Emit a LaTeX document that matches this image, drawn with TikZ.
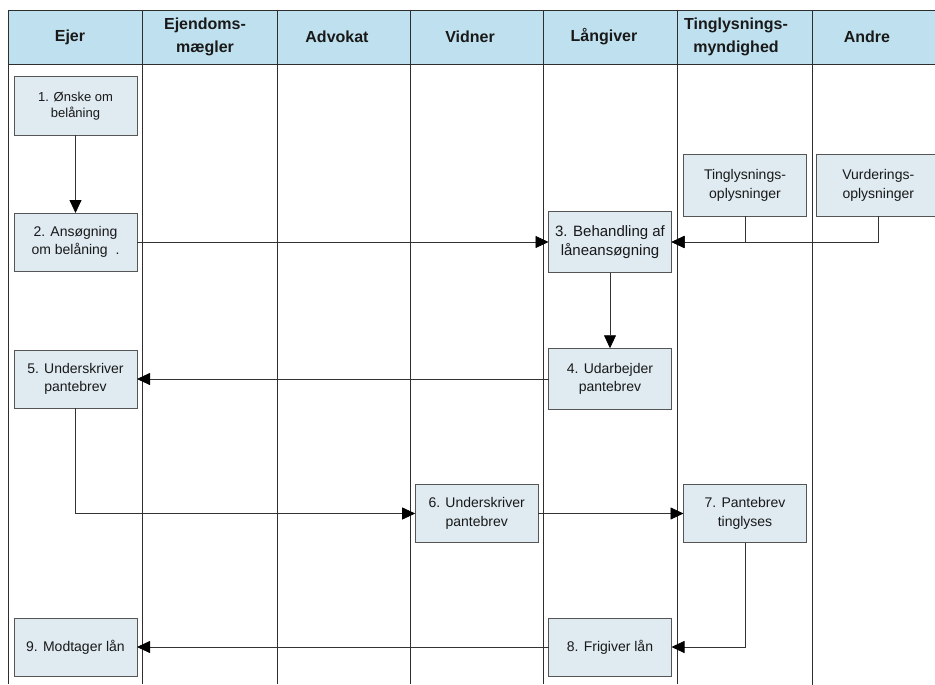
\documentclass[tikz,border=0pt]{standalone}
\usepackage{fontspec}
\setmainfont{Liberation Sans}
\usetikzlibrary{positioning}
\usetikzlibrary{arrows.meta}
\definecolor{headblue}{HTML}{BFE1EF}
\definecolor{boxblue}{HTML}{DFEAF1}
\definecolor{edgegray}{HTML}{555555}
\definecolor{lanegray}{HTML}{2E2E2E}
\tikzset{>={Triangle[length=13pt,width=12pt,fill=black,color=black]}}
\tikzset{task/.style={draw=edgegray, line width=1pt, fill=boxblue, minimum width=123pt, minimum height=58pt, inner sep=0pt, outer sep=0pt, align=center, text=black!90, font=\fontsize{14}{18.3}\selectfont}}
\tikzset{head/.style={align=center, text=black!90, font=\bfseries\fontsize{16}{23}\selectfont}}
\tikzset{flow/.style={draw=lanegray, line width=0.8pt, color=black!80}}
\tikzset{lane/.style={draw=lanegray, line width=0.9pt}}

\begin{document}
\begin{tikzpicture}[x=1pt,y=-1pt]
\useasboundingbox (0,0) rectangle (935,685);

\fill[headblue] (8,10) rectangle (940,64);
\draw[lane] (8,10) -- (940,10);
\draw[lane] (8,64) -- (940,64);
\draw[lane] (8,10) -- (8,684);
\draw[lane] (142,10) -- (142,684);
\draw[lane] (277,10) -- (277,684);
\draw[lane] (410,10) -- (410,684);
\draw[lane] (543.5,10) -- (543.5,684);
\draw[lane] (677,10) -- (677,684);
\draw[lane] (812,10) -- (812,685);

\node[head] (ejer) at (70,37) {Ejer};
\node[head] (maegler) at (205,37) {Ejendoms-\\mægler};
\node[head] (advokat) at (337,37) {Advokat};
\node[head] (vidner) at (470,37) {Vidner};
\node[head] (laangiver) at (604,37) {Långiver};
\node[head] (tinglys) at (736,37) {Tinglysnings-\\myndighed};
\node[head] (andre) at (867,37) {Andre};

\node[task, font=\fontsize{13}{15.7}\selectfont] (b1) at (75.5,106) {1. Ønske om\\belåning};
\node[task] (b2) at (75.5,242) {2. Ansøgning\\om belåning\ \ .};
\node[task, minimum height=61.5pt, font=\fontsize{15}{18.3}\selectfont] (b3) at (610,242) {3. Behandling af\\låneansøgning};
\node[task, minimum height=61.5pt] (ti) at (745,185.5) {Tinglysnings-\\oplysninger};
\node[task, minimum height=61.5pt, minimum width=123.3pt] (vu) at (878.3,185.5) {Vurderings-\\oplysninger};
\node[task, minimum height=61.5pt] (b4) at (610,379) {4. Udarbejder\\pantebrev};
\node[task] (b5) at (75.5,379) {5. Underskriver\\pantebrev};
\node[task] (b6) at (476.7,513.5) {6. Underskriver\\pantebrev};
\node[task] (b7) at (745,513.5) {7. Pantebrev\\tinglyses};
\node[task] (b8) at (610,647) {8. Frigiver lån};
\node[task] (b9) at (75.5,647) {9. Modtager lån};

\draw[flow,->] (b1) -- (b2);
\draw[flow,->] (b2) -- (b3);
\draw[flow,->] (vu) |- (b3);
\draw[flow,->] (ti) |- (b3);
\draw[flow,->] (b3) -- (b4);
\draw[flow,->] (b4) -- (b5);
\draw[flow,->] (b5) |- (b6);
\draw[flow,->] (b6) -- (b7);
\draw[flow,->] (b7) |- (b8);
\draw[flow,->] (b8) -- (b9);

\end{tikzpicture}
\end{document}
